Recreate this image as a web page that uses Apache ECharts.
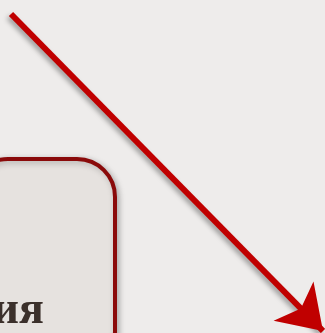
<!DOCTYPE html>
<html><head><meta charset="utf-8">
<script src="https://cdn.jsdelivr.net/npm/echarts@6/dist/echarts.min.js"></script>
<style>html,body{margin:0;padding:0;background:#eeeceb;}#c{width:325px;height:333px;}</style>
</head><body><div id="c"></div>
<script>
// Arrow endpoints in pixel-like axis units (x right, y down)
var arrowStart = [11, 14];
var arrowEnd = [323, 331];
var boxLabel = 'ия';

var chart = echarts.init(document.getElementById('c'), null, {renderer: 'canvas'});
chart.setOption({
  backgroundColor: '#eeeceb',
  animation: false,
  grid: {left: 0, right: 0, top: 0, bottom: 0},
  xAxis: {type: 'value', min: 0, max: 325, show: false},
  yAxis: {type: 'value', min: 0, max: 333, inverse: true, show: false},
  graphic: [
    {type: 'rect', z: 1, shape: {x: -30, y: 159, width: 145, height: 210, r: 38},
     style: {fill: '#e6e2df', stroke: '#8a0a0a', lineWidth: 4,
             shadowBlur: 6, shadowOffsetX: 2, shadowOffsetY: 2, shadowColor: 'rgba(0,0,0,0.25)'}},
    {type: 'text', z: 2, x: 44, y: 334, style: {text: boxLabel, align: 'right', verticalAlign: 'bottom',
      font: 'bold 46px "Liberation Serif", "DejaVu Serif", serif', fill: '#3b302b'}}
  ],
  series: [{
    type: 'lines',
    coordinateSystem: 'cartesian2d',
    z: 5,
    symbol: ['none', 'arrow'],
    symbolSize: [0, 42],
    lineStyle: {color: '#c00000', width: 6, opacity: 1, curveness: 0,
      shadowBlur: 5, shadowOffsetX: -2, shadowOffsetY: 3, shadowColor: 'rgba(0,0,0,0.35)'},
    data: [{coords: [arrowStart, arrowEnd]}]
  }]
});
</script></body></html>
